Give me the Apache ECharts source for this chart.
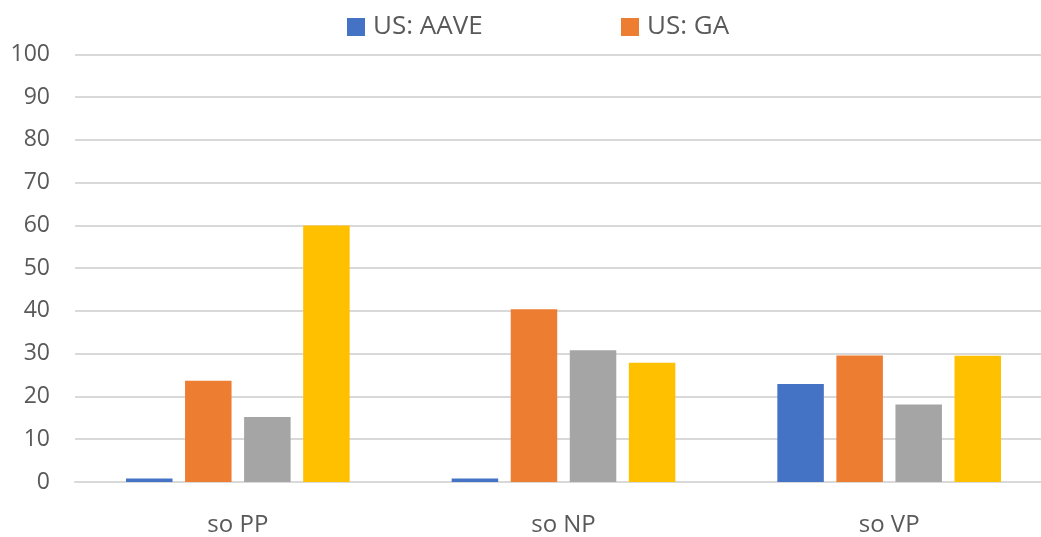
<!DOCTYPE html>
<html>
<head>
<meta charset="utf-8">
<script src="https://cdn.jsdelivr.net/npm/echarts@6/dist/echarts.min.js"></script>
<style>
  html, body { margin: 0; padding: 0; background: #ffffff; overflow: hidden; }
  /* the plot runs a little past the right edge of the window */
  #chart { width: 1060px; height: 537px; }
</style>
</head>
<body>
<div id="chart"></div>
<script>
// Categories and values per series
const categories = ['so PP', 'so NP', 'so VP'];
const aaveValues = [0.8, 0.8, 22.9];
const gaValues = [23.7, 40.4, 29.6];
const thirdValues = [15.2, 30.8, 18.1];
const fourthValues = [60.0, 27.9, 29.5];
const yTicks = { min: 0, max: 100, interval: 10 };

const FONT = '"Open Sans", "Liberation Sans", sans-serif';
const TEXT = '#595959';
const GRID = '#d9d9d9';

const chart = echarts.init(document.getElementById('chart'), null, { renderer: 'canvas' });

function bar(name, data, color) {
  return {
    name: name,
    type: 'bar',
    data: data,
    barWidth: 46.5,
    barGap: '27%',
    itemStyle: { color: color },
    emphasis: { disabled: true },
    animation: false
  };
}

const legendBase = {
  top: 9,
  icon: 'rect',
  itemWidth: 18,
  itemHeight: 18,
  textStyle: { fontFamily: FONT, fontSize: 26, color: TEXT, padding: [0, 0, 0, 3] },
  selectedMode: false
};

chart.setOption({
  backgroundColor: '#ffffff',
  animation: false,
  legend: [
    Object.assign({}, legendBase, { left: 342, data: ['US: AAVE'] }),
    Object.assign({}, legendBase, { left: 616, data: ['US: GA'] })
  ],
  grid: { left: 75, top: 54.3, width: 977, height: 430, containLabel: false },
  xAxis: {
    type: 'category',
    data: categories,
    axisLine: { show: true, lineStyle: { color: GRID, width: 2 } },
    axisTick: { show: false },
    axisLabel: { fontFamily: FONT, fontSize: 24, color: TEXT, margin: 31 }
  },
  yAxis: {
    type: 'value',
    min: yTicks.min,
    max: yTicks.max,
    interval: yTicks.interval,
    axisLine: { show: false },
    axisTick: { show: false },
    splitLine: { lineStyle: { color: GRID, width: 2 } },
    axisLabel: { fontFamily: FONT, fontSize: 23, color: TEXT, margin: 25 }
  },
  series: [
    bar('US: AAVE', aaveValues, '#4472c4'),
    bar('US: GA', gaValues, '#ed7d31'),
    bar('series3', thirdValues, '#a5a5a5'),
    bar('series4', fourthValues, '#ffc000')
  ]
});
</script>
</body>
</html>
